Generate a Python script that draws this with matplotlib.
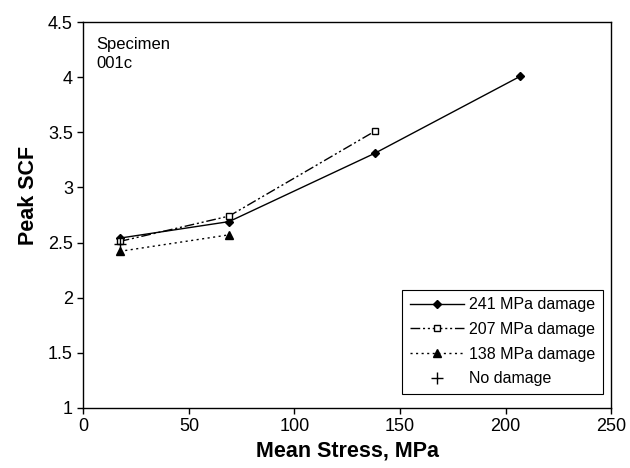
import matplotlib
matplotlib.use('Agg')
import matplotlib.pyplot as plt

plt.rcParams['font.family'] = ['Liberation Sans', 'DejaVu Sans']

# Data
stress_241 = [17.2, 69, 138, 207]
scf_241 = [2.54, 2.69, 3.31, 4.01]

stress_207 = [17.2, 69, 138]
scf_207 = [2.51, 2.74, 3.51]

stress_138 = [17.2, 69]
scf_138 = [2.42, 2.57]

stress_none = [17.2]
scf_none = [2.49]

x_ticks = [0, 50, 100, 150, 200, 250]
y_ticks = [1, 1.5, 2, 2.5, 3, 3.5, 4, 4.5]
y_tick_labels = ['1', '1.5', '2', '2.5', '3', '3.5', '4', '4.5']

fig = plt.figure(figsize=(6.3, 4.68), dpi=100)
ax = fig.add_axes([0.1324, 0.1288, 0.8376, 0.8236])

ax.plot(stress_241, scf_241, color='black', linewidth=1.0, linestyle='-',
        marker='D', markersize=4.5, markerfacecolor='black', label='241 MPa damage')
ax.plot(stress_207, scf_207, color='black', linewidth=1.0, linestyle=(0, (7, 2, 1.5, 2, 1.5, 2)),
        marker='s', markersize=4.8, markerfacecolor='white', markeredgewidth=1.0,
        label='207 MPa damage')
ax.plot(stress_138, scf_138, color='black', linewidth=1.0, linestyle=(0, (1.5, 2.5)),
        marker='^', markersize=5.8, markerfacecolor='black', label='138 MPa damage')
ax.plot(stress_none, scf_none, color='black', linestyle='none',
        marker='+', markersize=9, markeredgewidth=1.0, label='No damage')

ax.set_xlim(0, 250)
ax.set_ylim(1, 4.5)
ax.set_xticks(x_ticks)
ax.set_yticks(y_ticks)
ax.set_yticklabels(y_tick_labels)
ax.tick_params(direction='out', length=4, width=1, labelsize=13, colors='black')

for s in ax.spines.values():
    s.set_linewidth(1.0)
    s.set_color('black')

ax.set_xlabel('Mean Stress, MPa', fontsize=15.5, fontweight='bold', labelpad=4)
ax.set_ylabel('Peak SCF', fontsize=15.5, fontweight='bold')
ax.yaxis.set_label_coords(-0.085, 0.55)

ax.text(0.025, 0.962, 'Specimen\n001c', transform=ax.transAxes, fontsize=12,
        va='top', ha='left', linespacing=1.35)

leg = ax.legend(loc='lower right', bbox_to_anchor=(0.985, 0.035), fontsize=11.5,
                frameon=True, fancybox=False, edgecolor='black', framealpha=1,
                handlelength=3.4, borderpad=0.5, labelspacing=0.6, handletextpad=0.3,
                borderaxespad=0.0)
leg.get_frame().set_linewidth(0.8)

fig.savefig('out.png', dpi=100)
